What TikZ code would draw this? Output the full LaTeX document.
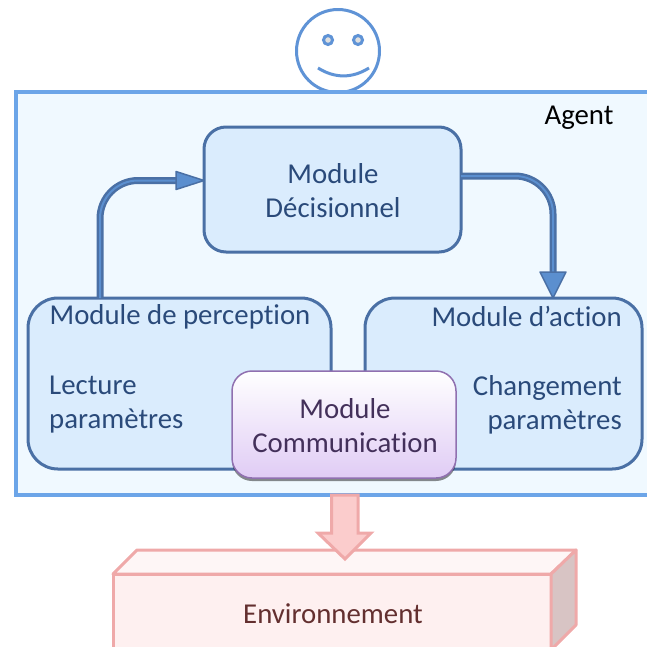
\documentclass[tikz,border=0pt]{standalone}
\usepackage{fontspec}
\setmainfont[RawFeature={-liga}]{Carlito}
\usetikzlibrary{positioning, arrows.meta, shadows}
\definecolor{agentline}{HTML}{6CA5E8}
\definecolor{agentfill}{HTML}{F0F9FF}
\definecolor{faceline}{HTML}{5F93D6}
\definecolor{modline}{HTML}{4A70A5}
\definecolor{modfill}{HTML}{DAECFD}
\definecolor{modtext}{HTML}{2A4A7A}
\definecolor{flowfill}{HTML}{5B8FCF}
\definecolor{comline}{HTML}{9070B0}
\definecolor{comfill}{HTML}{E0CCF5}
\definecolor{comtext}{HTML}{43305A}
\definecolor{envline}{HTML}{EFA9A9}
\definecolor{envfill}{HTML}{FEF0F0}
\definecolor{envside}{HTML}{D8C4C4}
\definecolor{envarrow}{HTML}{FBCCCC}
\definecolor{envtext}{HTML}{632F2F}
\tikzset{%
  every module/.style={
    rectangle,
    draw=modline,
    fill=modfill,
    line width=3pt,
    inner sep=0pt,
    outer sep=0pt
  },
  modlabel/.style={
    inner sep=0pt,
    font=\fontsize{28.8}{34}\selectfont,
    text=modtext
  },
  every eye/.style={
    circle,
    draw=faceline,
    fill=gray!25,
    line width=3pt,
    minimum size=9pt,
    inner sep=0pt
  },
  flow/.style={
    draw=modline,
    line width=7pt,
    rounded corners=38pt
  },
  flow inner/.style={
    draw=flowfill,
    line width=2pt,
    rounded corners=38pt
  }
}

\begin{document}
\begin{tikzpicture}[x=1pt,y=-1pt]
		\clip (0,0) rectangle (647,646);
		%% user on top
		\node[circle, draw=faceline, fill=white, line width=3pt, minimum size=83pt, inner sep=0pt] (face) at (338,51) {};
		\node[every eye] (eyel) at (328,40) {};
		\node[every eye] (eyer) at (358,40) {};
		\coordinate (smilel) at (318,68);
		\coordinate (smiler) at (369,68);
		\draw[faceline, line width=3pt] (smilel) to[bend right=32] (smiler);
		%% agent
		\node[rectangle, draw=agentline, fill=agentfill, line width=4pt, minimum width=660pt, minimum height=403pt, inner sep=0pt, outer sep=0pt] (agent) at (346,293.5) {};
		\node[modlabel, text=black] (agentl) at (579,118) {Agent};
		%% modules
		\node[every module, rounded corners=22pt, minimum width=257pt, minimum height=125pt] (mdec) at (332.5,189.5) {};
		\node[every module, rounded corners=30pt, minimum width=303pt, minimum height=171pt] (mper) at (179.5,383.5) {};
		\node[every module, rounded corners=30pt, minimum width=277pt, minimum height=171pt] (mact) at (503.5,383.5) {};
		\node[rectangle, draw=comline, top color=white, bottom color=comfill, line width=1.5pt, rounded corners=20pt, minimum width=224pt, minimum height=107pt, inner sep=0pt, outer sep=0pt, drop shadow={shadow xshift=0pt, shadow yshift=-3pt, opacity=.45, fill=black}] (mcom) at (344,424.5) {};
		%% module text
		\node[modlabel, align=center] (mdecl) at (333,191) {Module\\Décisionnel};
		\node[modlabel] (mperl) at (180,317) {Module de perception};
		\node[modlabel, align=left, anchor=west] (mperp) at (49,405) {Lecture\\paramètres};
		\node[modlabel, anchor=east] (mactl) at (622,316) {Module d’action};
		\node[modlabel, align=right, anchor=east] (mactp) at (622,405) {Changement\\paramètres};
		\node[modlabel, align=center, text=comtext] (mcoml) at (345,426) {Module\\Communication};
		%% module connections
		\coordinate (perout) at ([xshift=-79.5pt]mper.north);
		\coordinate (decin) at ([yshift=9pt]mdec.west);
		\coordinate (decout) at ([yshift=13.5pt]mdec.east);
		\coordinate (actin) at ([xshift=49.5pt]mact.north);
		\draw[flow] (perout) |- ([xshift=-24pt]decin);
		\draw[flow inner] (perout) |- ([xshift=-24pt]decin);
		\draw[flow] (decout) -| ([yshift=22pt]actin);
		\draw[flow inner] (decout) -| ([yshift=22pt]actin);
		\draw[modline, fill=flowfill, line width=1.5pt, line join=round] (decin) -- ++(-28,-9) -- ++(0,18) -- cycle;
		\draw[modline, fill=flowfill, line width=1.5pt, line join=round] (actin) -- ++(-13,-26) -- ++(26,0) -- cycle;
		%% environment
		\node[rectangle, draw=envline, fill=envfill, line width=3pt, minimum width=438pt, minimum height=100pt, inner sep=0pt, outer sep=0pt] (env) at (332,624) {};
		\draw[envline, fill=envfill!60!white, line width=3pt, line join=round] (env.north west) -- ++(24,-24) -- ++(439,0) -- (env.north east) -- cycle;
		\draw[envline, fill=envside, line width=3pt, line join=round] (env.north east) -- ++(25,-24) -- ++(0,75) -- ++(-25,25) -- cycle;
		\node[modlabel, text=envtext] (envl) at (333,614) {Environnement};
		%% agent to environment
		\draw[envline, fill=envarrow, line width=3pt, line join=miter] (agent.south -| 331.5,0) -- (331.5,533) -- (318,533) -- (345,559) -- (371,533) -- (358,533) -- (agent.south -| 358,0) -- cycle;
	\end{tikzpicture}
\end{document}
